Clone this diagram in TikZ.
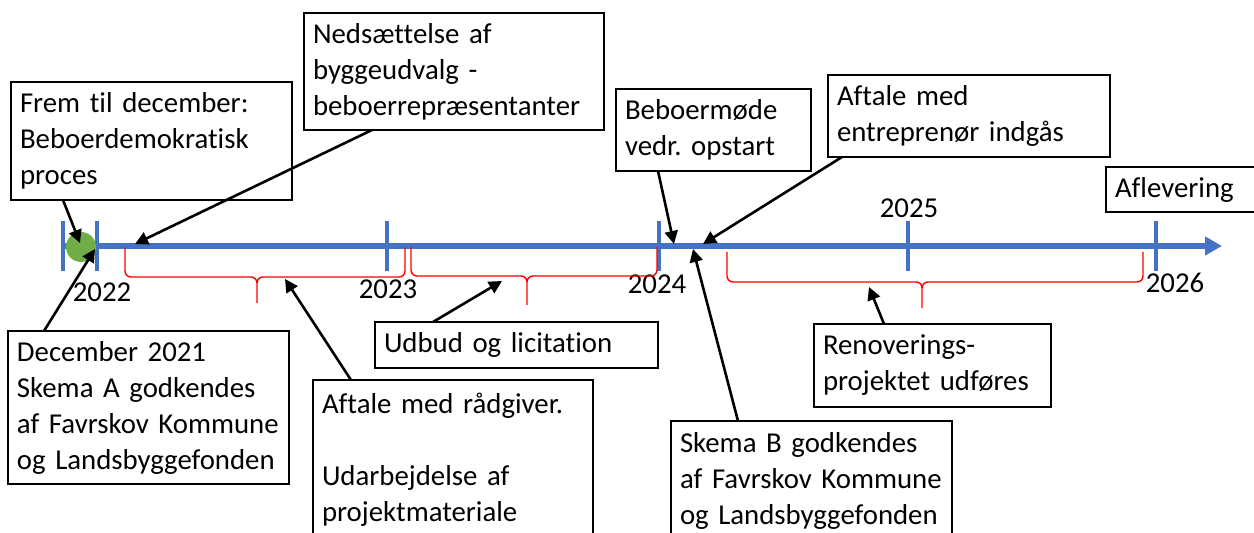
\documentclass[tikz,border=0pt]{standalone}
\usepackage{fontspec}
\setmainfont{Carlito}[Ligatures=NoCommon]
\usetikzlibrary{arrows.meta}
\definecolor{axblue}{HTML}{4472C4}
\definecolor{dotgreen}{HTML}{70AD47}
\definecolor{brred}{HTML}{FF0000}
\newcommand{\ObBrace}[6]{% L R T top mid tip
  \draw[bracestyle] (#1,#4) -- (#1,#5-6) to[out=-90,in=180] (#1+6,#5) -- (#3-6,#5)
    to[out=0,in=90] (#3,#5+6) -- (#3,#6)
    (#3,#5+6) to[out=90,in=180] (#3+6,#5) -- (#2-6,#5) to[out=0,in=-90] (#2,#5-6) -- (#2,#4);}
\tikzset{
  box/.style={draw=black, line width=0.8pt, fill=white, align=left, inner xsep=4.5pt,
    inner ysep=0pt, font=\fontsize{14.4}{18}\selectfont},
  year/.style={inner sep=0pt, font=\fontsize{14.4}{18}\selectfont},
  conn/.style={line width=1.3pt, -{Triangle[length=6.5pt,width=6.5pt]}},
  axisline/.style={axblue, line width=3pt, -{Triangle[length=8.5pt,width=9pt]}},
  tickline/.style={axblue, line width=1.6pt},
  bracestyle/.style={brred, line width=0.7pt},
}
\frenchspacing
\hyphenpenalty=10000
\exhyphenpenalty=10000
\begin{document}
\begin{tikzpicture}[x=0.5pt,y=-0.5pt]
\useasboundingbox (0,0) rectangle (1254,533);
\clip (0,0) rectangle (1254,533);
\fill[white] (0,0) rectangle (1254,533);

% axis
\coordinate (axL) at (63,246);
\coordinate (axR) at (1222,246);
\draw[axisline] (axL) -- (axR);
\foreach \x/\n in {63/t0,97/t1,387/t2,659/t3,908/t4,1156/t5}{
  \coordinate (\n a) at (\x,221);
  \coordinate (\n b) at (\x,271);
  \draw[tickline] (\n a) -- (\n b);
}
\node[circle, fill=dotgreen, minimum size=15pt, inner sep=0pt] (dot) at (81,247) {};

% years
\node[year] (y22) at (102,292) {2022};
\node[year] (y23) at (388,289) {2023};
\node[year] (y24) at (657,284) {2024};
\node[year] (y25) at (909,208) {2025};
\node[year] (y26) at (1175,283) {2026};

% braces
\ObBrace{125}{405}{257}{248}{277}{303}
\ObBrace{411}{657}{527}{247}{276}{305}
\ObBrace{727}{1143}{922}{252}{282}{308}

% boxes
\node[box, text width=131.5pt, minimum height=59pt] (b1) at (151.5,141)
  {Frem til december:\\Beboerdemokratisk\\proces};
\node[box, text width=141pt, minimum height=58.5pt] (b2) at (454,71.5)
  {Nedsættelse af\\byggeudvalg -\\beboerrepræsentanter};
\node[box, text width=88.5pt, minimum height=41pt] (b3) at (713.5,130)
  {Beboermøde\\vedr. opstart};
\node[box, text width=132pt, minimum height=41pt] (b4) at (969,116)
  {Aftale med\\entreprenør indgås};
\node[box, text width=73pt, minimum height=22.5pt] (b5) at (1188,189.5)
  {Aflevering};
\node[box, text width=131.5pt, minimum height=76.5pt] (b6) at (148.5,407.5)
  {December 2021\\Skema A godkendes\\af Favrskov Kommune\\og Landsbyggefonden};
\node[box, text width=131pt, minimum height=80pt] (b7) at (453,460)
  {Aftale med rådgiver.\\\mbox{}\\Udarbejdelse af\\projektmateriale};
\node[box, text width=132.5pt, minimum height=23pt] (b8) at (516.5,345)
  {Udbud og licitation};
\node[box, text width=109.5pt, minimum height=41.5pt] (b9) at (932.5,365.5)
  {Renoverings-\\projektet udføres};
\node[box, text width=131.5pt, minimum height=60pt] (b10) at (811.5,481)
  {Skema B godkendes\\af Favrskov Kommune\\og Landsbyggefonden};

% connector end points
\coordinate (s1) at (63,200);   \coordinate (e1) at (80,243);
\coordinate (s2) at (372,130);  \coordinate (e2) at (135,244);
\coordinate (s3) at (44,331);   \coordinate (e3) at (95,249);
\coordinate (s4) at (351,380);  \coordinate (e4) at (285,279);
\coordinate (s5) at (433,322);  \coordinate (e5) at (502,281);
\coordinate (s6) at (658,171);  \coordinate (e6) at (674,244);
\coordinate (s7) at (842,157);  \coordinate (e7) at (703,244);
\coordinate (s8) at (738,421);  \coordinate (e8) at (693,249);
\coordinate (s9) at (884,324);  \coordinate (e9) at (869,287);
\foreach \i in {1,...,9}{\draw[conn] (s\i) -- (e\i);}
\end{tikzpicture}
\end{document}
